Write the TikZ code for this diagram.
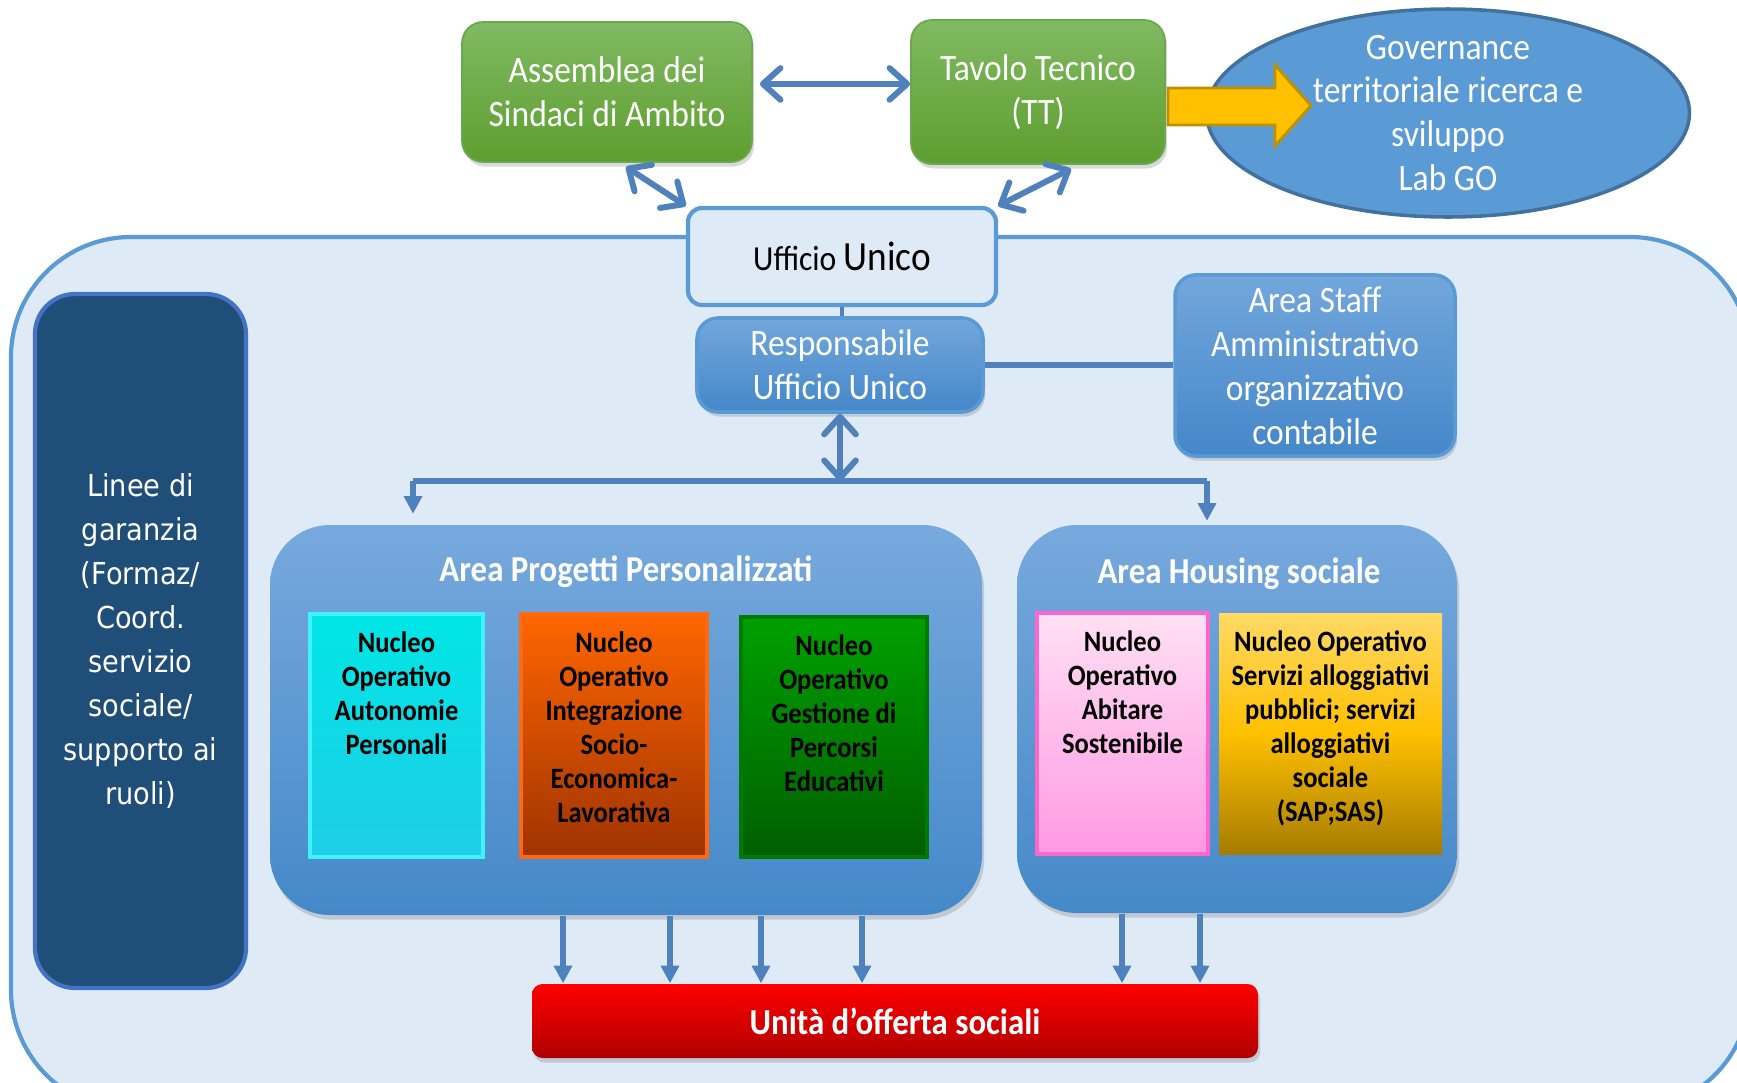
\documentclass[tikz,border=0pt]{standalone}
\usepackage{fontspec}
\setmainfont{Carlito}[FakeStretch=0.9]
\newfontfamily\lineefont{DejaVu Sans}[FakeStretch=0.9]
\usetikzlibrary{
	shapes,
	calc,
	arrows.meta,
	shadows}

\definecolor{bgblue}{HTML}{DEEAF6}
\definecolor{edgeblue}{HTML}{5B9BD5}
\definecolor{linkblue}{HTML}{4F81BD}
\definecolor{greentop}{HTML}{80BA62}
\definecolor{greenbot}{HTML}{5E9E2F}
\definecolor{greenedge}{HTML}{6AA84F}
\definecolor{ovalfill}{HTML}{5B9BD5}
\definecolor{ovaledge}{HTML}{41719C}
\definecolor{yellfill}{HTML}{FFC000}
\definecolor{yelledge}{HTML}{BF9000}
\definecolor{bluetop}{HTML}{72A7DC}
\definecolor{bluebot}{HTML}{4587C9}
\definecolor{areatop}{HTML}{77A9DD}
\definecolor{areabot}{HTML}{4589C9}
\definecolor{lineefill}{HTML}{1F4E79}
\definecolor{lineeedge}{HTML}{4472C4}
\definecolor{cyantop}{HTML}{00E6E6}
\definecolor{cyanbot}{HTML}{1FCDE6}
\definecolor{cyanedge}{HTML}{40F2FF}
\definecolor{orngtop}{HTML}{FF6600}
\definecolor{orngbot}{HTML}{A03300}
\definecolor{orngedge}{HTML}{FF6A10}
\definecolor{grntop}{HTML}{00A000}
\definecolor{grnbot}{HTML}{005E00}
\definecolor{grnedge}{HTML}{007A00}
\definecolor{pinktop}{HTML}{FFE0F3}
\definecolor{pinkbot}{HTML}{FF99E3}
\definecolor{pinkedge}{HTML}{FF66CC}
\definecolor{goldtop}{HTML}{FFD966}
\definecolor{goldmid}{HTML}{FFC000}
\definecolor{goldbot}{HTML}{A67C00}
\definecolor{redtop}{HTML}{FF0000}
\definecolor{redbot}{HTML}{B00000}

\newcommand\regfont{\fontsize{10.6}{12.5}\selectfont}
\newcommand\titlefont{\bfseries\fontsize{10.4}{12.5}\selectfont}
\newcommand\nucfont{\bfseries\fontsize{8.4}{9.7}\selectfont}

\tikzset{
	conn/.style={draw=linkblue, line width=1.5pt},
	dblarrow/.style={conn, line width=1.7pt, {Straight Barb[length=5pt,width=9pt,round]}-{Straight Barb[length=5pt,width=9pt,round]}},
	downarrow/.style={conn, -{Triangle[length=5pt,width=5pt]}},
	softshadow/.style={drop shadow={shadow xshift=0.6pt, shadow yshift=-1.3pt, opacity=0.3}},
	greenbox/.style={rounded corners=6pt, top color=greentop, bottom color=greenbot,
		draw=greenedge, line width=0.5pt, text=white, align=center, font=\regfont, softshadow},
	bluebox/.style={rounded corners=6pt, top color=bluetop, bottom color=bluebot,
		draw=edgeblue, line width=1pt, text=white, align=center, font=\regfont, softshadow},
	areabox/.style={rounded corners=0.6cm, top color=areatop, bottom color=areabot, softshadow},
	areatitle/.style={text=white, font=\titlefont},
	nucleo/.style={line width=1.2pt, minimum height=2.43cm, inner sep=0pt},
	nucleotext/.style={anchor=north, align=center, yshift=-2pt, font=\nucfont}
}

\begin{document}
\begin{tikzpicture}
    \clip (0,0) rectangle (17.37,-10.82);
    \draw [fill=bgblue, draw=edgeblue, line width=1.2pt, rounded corners=1.2cm]
        (0.11,-2.37) rectangle (17.50,-11.10);

    \node [greenbox, minimum width=2.90cm, minimum height=1.40cm] (asd) at (6.07,-0.92) {Assemblea dei\\Sindaci di Ambito};
    \node [greenbox, minimum width=2.54cm, minimum height=1.44cm] (tt) at (10.38,-0.92) {Tavolo Tecnico\\(TT)};
    \node [ellipse, fill=ovalfill, draw=ovaledge, line width=1pt, minimum width=4.83cm, minimum height=2.08cm,
        inner sep=0pt] (gov) at (14.48,-1.13) {};
    \draw [fill=yellfill, draw=yelledge, line width=0.8pt] (11.68,-0.88) -- (12.75,-0.88) -- (12.75,-0.65)
        -- (13.11,-1.055) -- (12.75,-1.46) -- (12.75,-1.25) -- (11.68,-1.25) -- cycle;
    \node [text=white, align=center, font=\regfont] (govT) at (gov.center)
        {Governance\\territoriale ricerca e\\sviluppo\\Lab GO};

    \node [rounded corners=4pt, fill=bgblue, draw=edgeblue, line width=1.2pt, minimum width=3.08cm,
        minimum height=0.97cm] (uu) at (8.42,-2.565)
        {{\fontsize{10}{12}\selectfont Ufficio} {\fontsize{11.8}{14}\selectfont Unico}};
    \node [bluebox, minimum width=2.86cm, minimum height=0.94cm] (ruu) at (8.40,-3.65) {Responsabile\\Ufficio Unico};
    \node [bluebox, minimum width=2.80cm, minimum height=1.77cm] (staff) at (13.15,-3.655)
        {Area Staff\\Amministrativo\\organizzativo\\contabile};

    \node [rounded corners=0.4cm, fill=lineefill, draw=lineeedge, line width=1.2pt, minimum width=2.11cm,
        minimum height=6.94cm, text=white, align=center, font=\lineefont\fontsize{8.6}{12.5}\selectfont] (lg) at (1.405,-6.41)
        {Linee di\\garanzia\\(Formaz/\\Coord.\\servizio\\sociale/\\supporto ai\\ruoli)};

    \node [areabox, minimum width=7.12cm, minimum height=3.90cm] (app) at (6.26,-7.20) {};
    \node [areabox, minimum width=4.40cm, minimum height=3.88cm] (ahs) at (12.37,-7.19) {};
    \node [areatitle] (appT) at (6.26,-5.72) {Area Progetti Personalizzati};
    \node [areatitle] (ahsT) at (12.39,-5.74) {Area Housing sociale};

    \node [nucleo, top color=cyantop, bottom color=cyanbot, draw=cyanedge, minimum width=1.73cm] (noap) at (3.965,-7.355) {};
    \node [nucleo, top color=orngtop, bottom color=orngbot, draw=orngedge, minimum width=1.86cm] (noise) at (6.14,-7.355) {};
    \node [nucleo, top color=grntop, bottom color=grnbot, draw=grnedge, minimum width=1.86cm, minimum height=2.40cm] (nogpe) at (8.34,-7.37) {};
    \node [nucleo, top color=pinktop, bottom color=pinkbot, draw=pinkedge, minimum width=1.71cm, minimum height=2.41cm] (noas) at (11.225,-7.335) {};
    \node [nucleo, top color=goldtop, bottom color=goldbot, middle color=goldmid, minimum width=2.23cm, minimum height=2.41cm] (nosa) at (13.305,-7.335) {};
    \node [nucleotext] (noapT) at (noap.north) {Nucleo\\Operativo\\Autonomie\\Personali};
    \node [nucleotext] (noiseT) at (noise.north) {Nucleo\\Operativo\\Integrazione\\Socio-\\Economica-\\Lavorativa};
    \node [nucleotext] (nogpeT) at (nogpe.north) {Nucleo\\Operativo\\Gestione di\\Percorsi\\Educativi};
    \node [nucleotext] (noasT) at (noas.north) {Nucleo\\Operativo\\Abitare\\Sostenibile};
    \node [nucleotext] (nosaT) at (nosa.north) {Nucleo Operativo\\Servizi alloggiativi\\pubblici; servizi\\alloggiativi\\sociale\\(SAP;SAS)};

    \node [rounded corners=3pt, top color=redtop, bottom color=redbot, softshadow, minimum width=7.26cm,
        minimum height=0.74cm, text=white, font=\titlefont] (uos) at (8.95,-10.21) {Unità d’offerta sociali};

    \coordinate (busL) at (4.13,-4.81);
    \coordinate (busR) at (12.07,-4.81);
    \coordinate (busM) at (ruu.south |- busL);

    \draw [dblarrow] ([xshift=2pt,yshift=2.3pt]asd.east) -- ([yshift=2.3pt]tt.west);
    \draw [dblarrow] ([xshift=0.19cm,yshift=-0.04cm]asd.south) -- (uu.north west);
    \draw [dblarrow] ([xshift=0.33cm,yshift=-0.04cm]tt.south) -- (uu.north east);
    \draw [conn, line width=1pt] (uu.south) -- (uu.south |- ruu.north);
    \draw [conn] (ruu.east) -- (ruu.east -| staff.west);
    \draw [dblarrow] (ruu.south) -- (busM);
    \draw [conn] (busL) -- (busR);
    \draw [downarrow, shorten >=3pt] (busL) -- (busL |- app.north);
    \draw [downarrow, shorten >=1pt] (busR) -- (busR |- ahs.north);
    \foreach \x in {5.63,6.70,7.61,8.62}
        \draw [downarrow] (\x,0 |- app.south) -- (\x,0 |- uos.north);
    \foreach \x in {11.22,12.00}
        \draw [downarrow] (\x,0 |- ahs.south) -- (\x,0 |- uos.north);
  \end{tikzpicture}
\end{document}
